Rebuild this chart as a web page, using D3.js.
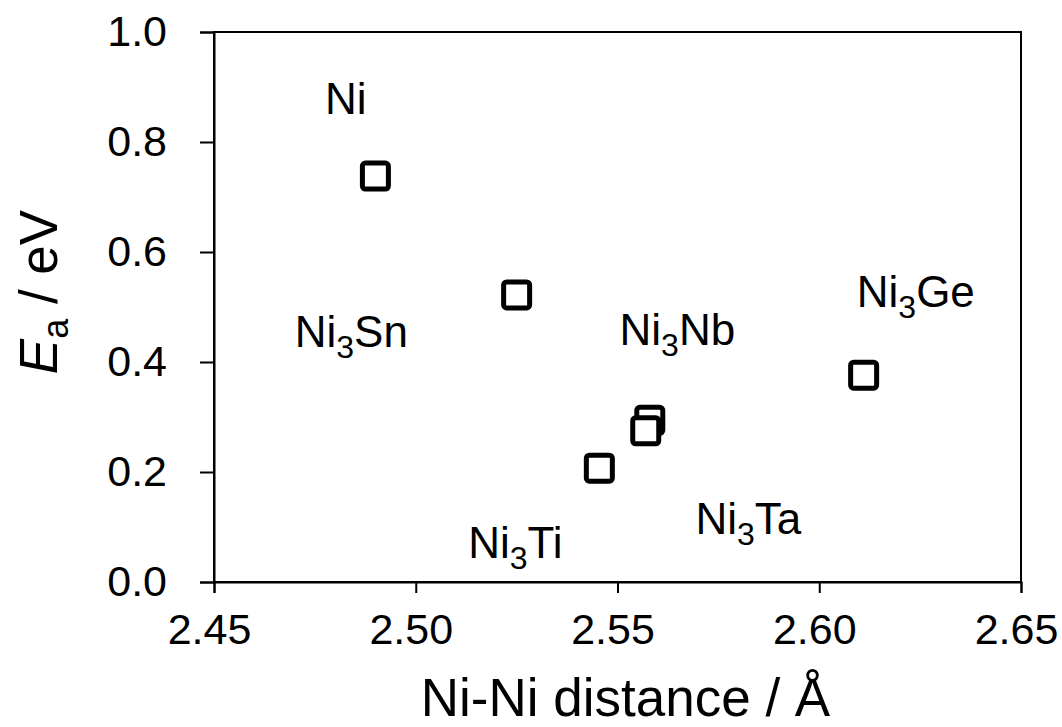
<!DOCTYPE html>
<html>
<head>
<meta charset="utf-8">
<script src="https://cdn.jsdelivr.net/npm/d3@7"></script>
<style>
  body { margin: 0; background: #fff; }
  text { font-family: "Liberation Sans", Arial, sans-serif; fill: #000; }
</style>
</head>
<body>
<div id="myDiv"></div>
<script>
// distances (Å) and activation energies (eV)
var names = ['Ni', 'Ni3Sn', 'Ni3Ti', 'Ni3Nb', 'Ni3Ta', 'Ni3Ge'];
var dist = [2.490, 2.525, 2.5455, 2.558, 2.557, 2.611];
var energy = [0.738, 0.522, 0.207, 0.294, 0.275, 0.376];

// where each compound name sits (data units, left edge / baseline)
var labelX = [2.4775, 2.4700, 2.5130, 2.5505, 2.5693, 2.6093];
var labelY = [0.851, 0.428, 0.043, 0.431, 0.087, 0.4995];

var xTicks = [2.45, 2.50, 2.55, 2.60, 2.65];
var yTicks = [0.0, 0.2, 0.4, 0.6, 0.8, 1.0];

var width = 1062, height = 727;
var plotL = 214, plotR = 1021, plotT = 32, plotB = 582;

var x = d3.scaleLinear().domain([2.45, 2.65]).range([plotL, plotR]);
var y = d3.scaleLinear().domain([0, 1]).range([plotB, plotT]);

var svg = d3.select("#myDiv").append("svg").attr("width", width).attr("height", height);

// frame
svg.append("rect").attr("x", plotL).attr("y", plotT).attr("width", plotR - plotL).attr("height", plotB - plotT)
    .attr("fill", "none").attr("stroke", "#000").attr("stroke-width", 2);

var xAxis = svg.append("g").attr("transform", "translate(0," + plotB + ")")
    .call(d3.axisBottom(x).tickValues(xTicks).tickFormat(d3.format(".2f")).tickSize(11).tickPadding(20));
var yAxis = svg.append("g").attr("transform", "translate(" + plotL + ",0)")
    .call(d3.axisLeft(y).tickValues(yTicks).tickFormat(d3.format(".1f")).tickSize(14).tickPadding(33));

[xAxis, yAxis].forEach(function(a) {
    a.select(".domain").attr("stroke-width", 2);
    a.selectAll(".tick line").attr("stroke-width", 2);
    a.selectAll(".tick text").style("font-size", "43px").attr("font-family", null);
});
xAxis.selectAll(".tick text").attr("dy", "0.71em").attr("dx", -5);

// points
svg.selectAll(".pt").data(dist).enter().append("rect").attr("class", "pt")
    .attr("x", function(d) { return x(d) - 13; })
    .attr("y", function(d, i) { return y(energy[i]) - 13; })
    .attr("width", 26).attr("height", 26).attr("rx", 3)
    .attr("fill", "#fff").attr("stroke", "#000").attr("stroke-width", 5);

// compound labels with subscript 3
var lab = svg.selectAll(".lab").data(names).enter().append("text").attr("class", "lab")
    .attr("x", function(d, i) { return x(labelX[i]); })
    .attr("y", function(d, i) { return y(labelY[i]); })
    .style("font-size", "44px");
lab.each(function(d) {
    var t = d3.select(this);
    var m = d.match(/^(Ni)(3?)(.*)$/);
    t.append("tspan").text(m[1]);
    if (m[2]) {
        t.append("tspan").text(m[2]).style("font-size", "32px").attr("dy", 11);
        t.append("tspan").text(m[3]).attr("dy", -11);
    }
});

// axis titles
svg.append("text").attr("x", (plotL + plotR) / 2 + 8).attr("y", 716)
    .attr("text-anchor", "middle").style("font-size", "53px")
    .text("Ni-Ni distance / Å");

var yt = svg.append("text").attr("transform", "translate(57,292) rotate(-90)")
    .attr("text-anchor", "middle").style("font-size", "53px");
yt.append("tspan").text("E").style("font-style", "italic");
yt.append("tspan").text("a").style("font-size", "36px").attr("dy", 11);
yt.append("tspan").text(" / eV").attr("dy", -11);
</script>
</body>
</html>
